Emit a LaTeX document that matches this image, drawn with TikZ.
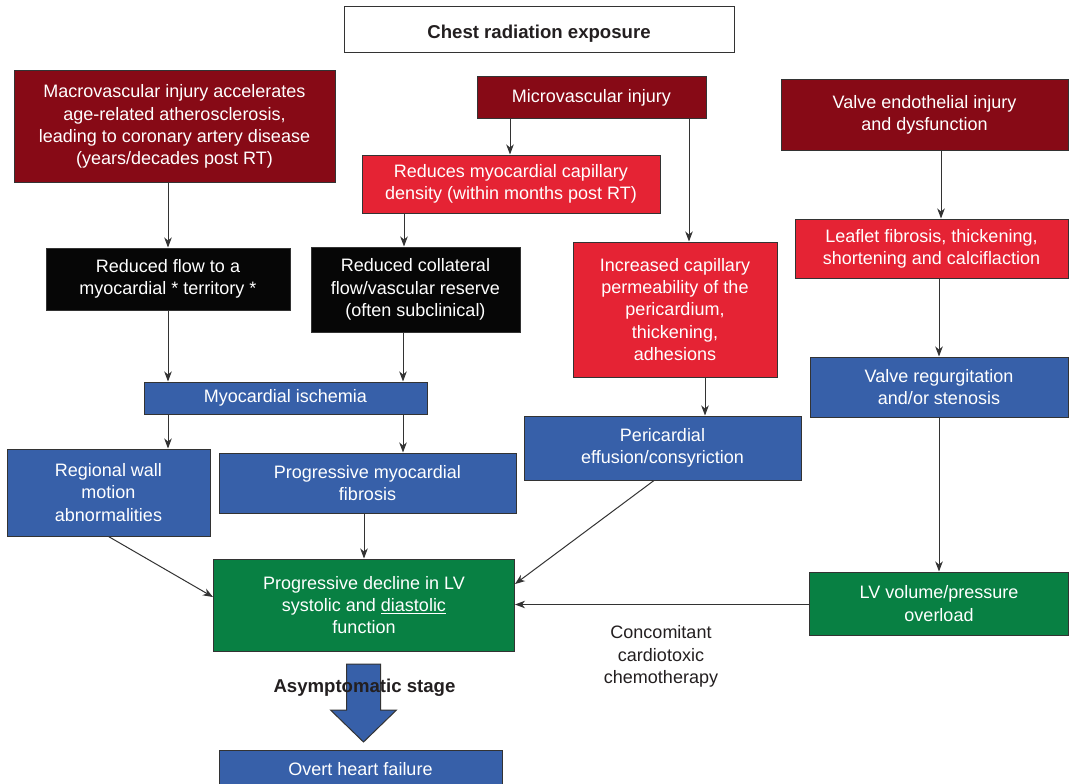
\documentclass[tikz,border=0pt]{standalone}
\usepackage{fontspec}
\setmainfont{Liberation Sans}
\usetikzlibrary{arrows.meta}
\definecolor{injuryred}{RGB}{135,10,22}
\definecolor{brightred}{RGB}{229,35,52}
\definecolor{nearblack}{RGB}{6,6,6}
\definecolor{stepblue}{RGB}{55,96,169}
\definecolor{stepgreen}{RGB}{8,128,67}
\definecolor{edgegray}{RGB}{51,51,51}
\definecolor{inkgray}{RGB}{35,31,32}
\begin{document}
\begin{tikzpicture}[x=1pt,y=-1pt,
  box/.style={draw=edgegray, line width=1pt, text=white, align=center, inner sep=0pt,
    font=\fontsize{18}{22.3}\selectfont},
  sz/.style 2 args={minimum width=#1pt, minimum height=#2pt},
  redA/.style={box, fill=injuryred},
  redB/.style={box, fill=brightred},
  blk/.style={box, fill=nearblack},
  blu/.style={box, fill=stepblue},
  grn/.style={box, fill=stepgreen},
  arr/.style={draw=edgegray, line width=1pt, -{Stealth[length=10pt,width=7.5pt,inset=3pt]}},
  plain/.style={text=inkgray, align=center, inner sep=0pt, font=\fontsize{18}{22.3}\selectfont}
]
\useasboundingbox (0,0) rectangle (1074,784);
\fill[white] (0,0) rectangle (1074,784);

% top-level exposure
\node[box, fill=white, text=inkgray, sz={390}{46}, font=\fontsize{18.6}{22}\selectfont\bfseries] (chest) at (539,30) {\raisebox{-4pt}[13pt][4pt]{Chest radiation exposure}};

% injury mechanisms
\node[redA, sz={321}{111}] (macro) at (174.5,126.5) {Macrovascular injury accelerates\\age-related atherosclerosis,\\leading to coronary artery disease\\(years/decades post RT)};
\node[redA, sz={229}{41}] (micro) at (591.5,97.5) {Microvascular injury};
\node[redA, sz={287}{70}] (valve) at (924.5,115) {Valve endothelial injury\\and dysfunction};

\node[redB, sz={298}{58}] (reduces) at (511,184) {Reduces myocardial capillary\\density (within months post RT)};
\node[redB, sz={273}{59}] (leaflet) at (931.5,248.5) {Leaflet fibrosis, thickening,\\shortening and calciflaction};
\node[redB, sz={204}{135}] (perm) at (675,309.5) {Increased capillary\\permeability of the\\pericardium,\\thickening,\\adhesions};

\node[blk, sz={244}{62}] (flow) at (168,279) {Reduced flow to a\\myocardial * territory *};
\node[blk, sz={209}{85}] (collat) at (415.5,289.5) {Reduced collateral\\flow/vascular reserve\\(often subclinical)};

% consequences
\node[blu, sz={283}{32}] (isch) at (285.5,398) {Myocardial ischemia};
\node[blu, sz={258}{60}] (regurg) at (939,387) {Valve regurgitation\\and/or stenosis};
\node[blu, sz={277}{64}] (peri) at (662.5,448) {Pericardial\\effusion/consyriction};
\node[blu, sz={203}{87}] (wall) at (108.5,492.5) {Regional wall\\motion\\abnormalities};
\node[blu, sz={297}{60}] (fib) at (367.5,483) {Progressive myocardial\\fibrosis};

\node[grn, sz={301}{92}] (decline) at (364,605) {Progressive decline in LV\\systolic and \underline{diastolic}\\function};
\node[grn, sz={259}{63}] (lvol) at (939,603.5) {LV volume/pressure\\overload};

\node[plain] (chemo) at (661,656.5) {Concomitant\\cardiotoxic\\chemotherapy};

\node[blu, sz={283}{40}] (overt) at (360.5,770) {\raisebox{3pt}{Overt heart failure}};

% connectors
\draw[arr] (macro.south -| flow.north) -- (flow.north);
\draw[arr] ([xshift=-1pt]micro.south -| reduces.north) -- ([xshift=-1pt]reduces.north);
\draw[arr] ([xshift=97.5pt]micro.south) -- ([xshift=14pt]perm.north);
\draw[arr] ([xshift=-107pt]reduces.south) -- ([xshift=-11.5pt]collat.north);
\draw[arr] ([xshift=16.5pt]valve.south) -- ([xshift=9.5pt]leaflet.north);
\draw[arr] ([xshift=7.5pt]leaflet.south) -- (regurg.north);
\draw[arr] (flow.south) -- ([xshift=-117.5pt]isch.north);
\draw[arr] ([xshift=-12.5pt]collat.south) -- ([xshift=117.5pt]isch.north);
\draw[arr] ([xshift=-117.5pt]isch.south) -- ([xshift=59.5pt]wall.north);
\draw[arr] ([xshift=117.5pt]isch.south) -- ([xshift=35.5pt]fib.north);
\draw[arr] ([xshift=30pt]perm.south) -- ([xshift=42.5pt]peri.north);
\draw[arr] (regurg.south) -- (lvol.north);
\draw[arr] (wall.south) -- ([yshift=8pt]decline.west);
\draw[arr] ([xshift=-3.5pt]fib.south) -- (decline.north);
\draw[arr] ([xshift=-8.5pt]peri.south) -- ([yshift=21pt]decline.east);
\draw[arr] ([yshift=-1pt]lvol.west) -- ([yshift=-1pt]lvol.west -| decline.east);

% block arrow into overt failure
\coordinate (stagetip) at (363.5,742);
\filldraw[fill=stepblue, draw=edgegray, line width=1pt]
  (346.5,664) -- (380.5,664) -- (380.5,710) -- (396.5,710) -- (stagetip)
  -- (330.5,710) -- (346.5,710) -- cycle;
\node[plain, font=\fontsize{18.6}{22}\selectfont\bfseries] (stage) at (364.5,688) {Asymptomatic stage};
\end{tikzpicture}
\end{document}
